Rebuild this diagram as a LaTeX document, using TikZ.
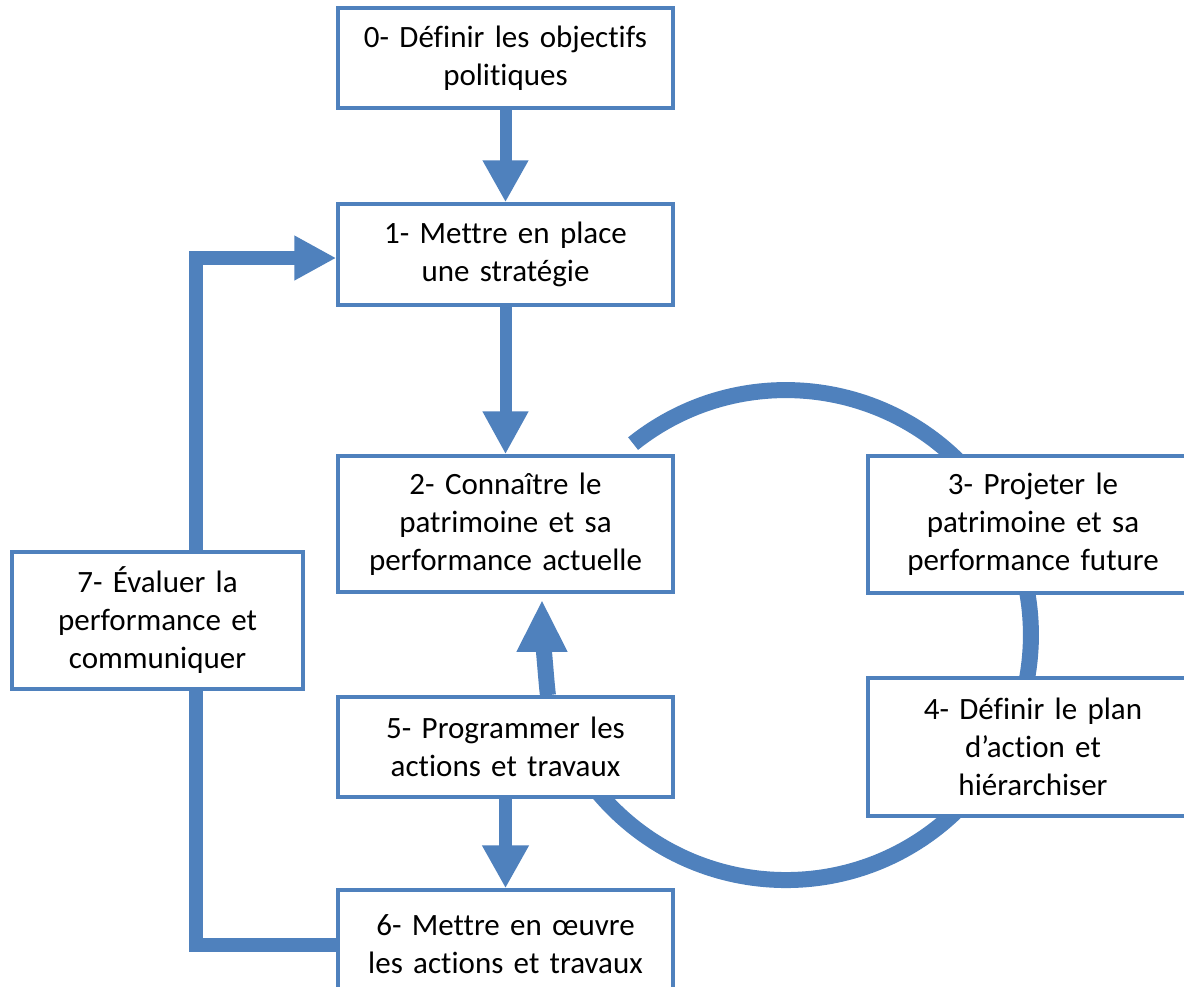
\documentclass[tikz,border=0pt]{standalone}
\usepackage{fontspec}
\setmainfont{Carlito}[Ligatures={NoCommon}]
\usetikzlibrary{arrows.meta,calc}
\definecolor{mainblue}{RGB}{79,129,189}
\pgfdeclarelayer{bg}
\pgfsetlayers{bg,main}
\begin{document}
\begin{tikzpicture}[x=1pt,y=-1pt,
  box/.style={draw=mainblue, line width=3.5pt, fill=white, inner sep=0pt, align=center,
    text=black, font=\fontsize{31}{38}\selectfont, minimum width=335pt, text width=330pt},
  flow/.style={draw=mainblue, line width=13pt, -{Triangle[length=43pt,width=44pt]}},
  ring/.style={draw=mainblue, line width=16pt},
]
\useasboundingbox (0,0) rectangle (1184,986);
\node[box, minimum height=100pt] (b0) at (505.5,58) {0- Définir les objectifs\\politiques};
\node[box, minimum height=101pt] (b1) at (505.5,254.5) {1- Mettre en place\\une stratégie};
\node[box, minimum height=136pt] (b2) at (505.5,524) {2- Connaître le\\patrimoine et sa\\performance actuelle};
\node[box, minimum height=137pt, minimum width=330pt, text width=325pt] (b3) at (1033,524.5) {3- Projeter le\\patrimoine et sa\\performance future};
\node[box, minimum height=138pt, minimum width=330pt, text width=325pt] (b4) at (1033,747) {4- Définir le plan\\d’action et\\hiérarchiser};
\node[box, minimum height=100pt] (b5) at (505.5,747) {5- Programmer les\\actions et travaux};
\node[box, minimum height=108pt] (b6) at (505.5,944) {6- Mettre en œuvre\\les actions et travaux};
\node[box, minimum height=137pt, minimum width=291pt, text width=285pt] (b7) at (157.5,620.5) {7- Évaluer la\\performance et\\communiquer};
\coordinate (arcstart) at (633.1,443.6);
\begin{pgfonlayer}{bg}
  \fill[white] (0,0) rectangle (1184,986);
  \draw[ring, line cap=butt] (arcstart) arc[start angle=231.4, end angle=501, radius=245];
  \draw[flow, line width=12pt, -{Triangle[length=42pt,width=43pt]}] (b0.south) -- (b1.north);
  \draw[flow, line width=12pt, -{Triangle[length=43pt,width=43pt]}] (b1.south) -- (b2.north);
  \draw[flow] (b5.south) -- (b6.north);
  \draw[flow, line width=16pt, -{Triangle[length=52pt,width=47pt]}]
    ($(b5.north)+(42.5,0)$) .. controls (546,682) and (542,616) .. ($(b2.south)+(36.5,6)$);
  \draw[flow, line width=14pt, line join=miter, -{Triangle[length=42pt,width=42pt]}]
    ($(b6.west)+(0,1)$) -- ++(-140,0) |- ($(b1.west)+(0,3.5)$);
\end{pgfonlayer}
\end{tikzpicture}
\end{document}
